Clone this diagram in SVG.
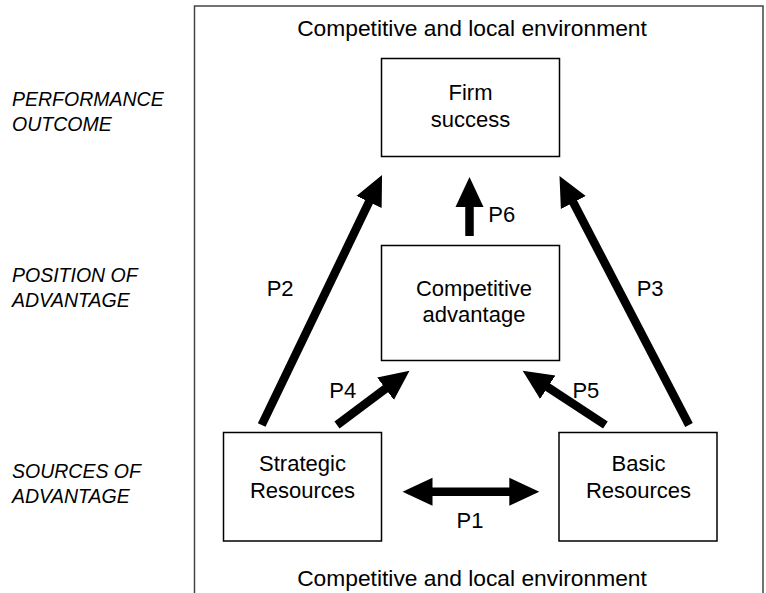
<svg xmlns="http://www.w3.org/2000/svg" width="766" height="593" viewBox="0 0 766 593">
<style>
  text { font-family: "Liberation Sans", Arial, sans-serif; fill: #000; }
  .t { font-size: 22px; text-anchor: middle; }
  .env { font-size: 22.8px; text-anchor: middle; }
  .lab { font-size: 22px; }
  .side { font-size: 19.5px; font-style: italic; }
  .box { fill: #fff; stroke: #000; stroke-width: 1.5; }
  .arr { stroke: #000; stroke-width: 8.5; fill: none; }
</style>
<defs>
  <marker id="head" markerUnits="userSpaceOnUse" markerWidth="32" markerHeight="32" viewBox="-2 -15 32 30" refX="0" refY="0" orient="auto-start-reverse">
    <path d="M-2,-14 L28,0 L-2,14 Z" fill="#000"/>
  </marker>
</defs>
<rect width="766" height="593" fill="#fff"/>

<g id="frame">
  <path d="M194.5,593 V6 H763 V593" fill="none" stroke="#444" stroke-width="1.5"/>
  <text class="env" x="472" y="35.5">Competitive and local environment</text>
  <text class="env" x="472" y="586">Competitive and local environment</text>
</g>

<g id="side-labels">
  <text class="side" x="12" y="106">PERFORMANCE</text>
  <text class="side" x="12" y="131">OUTCOME</text>
  <text class="side" x="12" y="282">POSITION OF</text>
  <text class="side" x="12" y="307">ADVANTAGE</text>
  <text class="side" x="12" y="478">SOURCES OF</text>
  <text class="side" x="12" y="503">ADVANTAGE</text>
</g>

<g id="firm-success">
  <rect class="box" x="381.5" y="58.5" width="178" height="98"/>
  <text class="t" x="470.5" y="100">Firm</text>
  <text class="t" x="470.5" y="127">success</text>
</g>

<g id="competitive-advantage">
  <rect class="box" x="381.5" y="245.5" width="178" height="115"/>
  <text class="t" x="474" y="296">Competitive</text>
  <text class="t" x="474" y="322">advantage</text>
</g>

<g id="strategic-resources">
  <rect class="box" x="223.5" y="432.5" width="158" height="108.5"/>
  <text class="t" x="302.5" y="471">Strategic</text>
  <text class="t" x="302.5" y="497.5">Resources</text>
</g>

<g id="basic-resources">
  <rect class="box" x="559" y="432.5" width="158" height="108.5"/>
  <text class="t" x="638.5" y="471">Basic</text>
  <text class="t" x="638.5" y="497.5">Resources</text>
</g>

<g id="connectors">
  <line class="arr" x1="261.7" y1="425" x2="369.9" y2="200.2" marker-end="url(#head)"/>
  <line class="arr" x1="689" y1="425" x2="572.4" y2="200.8" marker-end="url(#head)"/>
  <line class="arr" x1="337" y1="425" x2="387.1" y2="387.5" marker-end="url(#head)"/>
  <line class="arr" x1="605.4" y1="425" x2="546.1" y2="386.1" marker-end="url(#head)"/>
  <line class="arr" x1="469.5" y1="236" x2="469.5" y2="205" marker-end="url(#head)"/>
  <line class="arr" x1="430.5" y1="491.7" x2="511.3" y2="491.7" marker-start="url(#head)" marker-end="url(#head)"/>
  <text class="lab" x="266.7" y="296">P2</text>
  <text class="lab" x="636.7" y="296">P3</text>
  <text class="lab" x="329.3" y="398.3">P4</text>
  <text class="lab" x="572.4" y="398">P5</text>
  <text class="lab" x="488.3" y="221.7">P6</text>
  <text class="lab" x="470" y="528.3" text-anchor="middle">P1</text>
</g>
</svg>
